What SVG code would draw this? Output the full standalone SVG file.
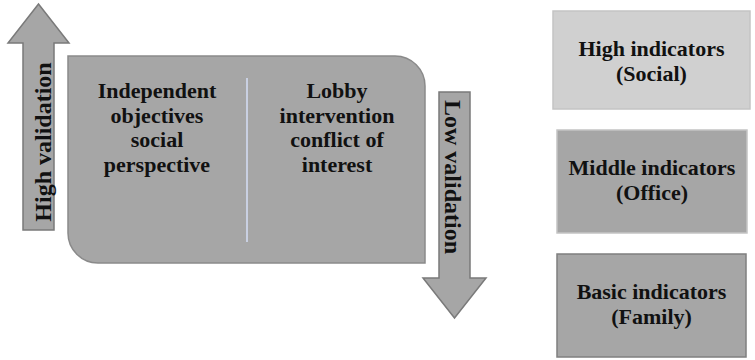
<svg xmlns="http://www.w3.org/2000/svg" width="755" height="360" viewBox="0 0 755 360">
<style>
text{font-family:"Liberation Serif","Times New Roman",serif;font-weight:bold;fill:#111;text-anchor:middle}
.t{font-size:22px}
.v{font-size:24px}
.arrow{fill:#a6a6a6;stroke:#7a7a7a;stroke-width:1.5}
.box{stroke:#c4c4c4;stroke-width:1.5}
</style>
<rect width="755" height="360" fill="#fff"/>
<g id="main">
<path d="M68,56 H395 A30,30 0 0 1 425,86 V263 H98 A30,30 0 0 1 68,233 Z" fill="#a6a6a6" stroke="#8a8a8a" stroke-width="1.5"/>
<line x1="247" y1="78" x2="247" y2="242" stroke="#c9d0e2" stroke-width="2"/>
<text class="t" x="157" y="98">Independent</text>
<text class="t" x="157" y="122.7">objectives</text>
<text class="t" x="157" y="147.4">social</text>
<text class="t" x="157" y="172">perspective</text>
<text class="t" x="337" y="98">Lobby</text>
<text class="t" x="337" y="122.7">intervention</text>
<text class="t" x="337" y="147.4">conflict of</text>
<text class="t" x="337" y="172">interest</text>
</g>
<g id="connectors">
<g id="high-validation">
<path class="arrow" d="M23,230 V43 H8 L38.5,4 L69,43 H54 V230 Z"/>
<text class="v" transform="translate(51,142) rotate(-90)">High validation</text>
</g>
<g id="low-validation">
<path class="arrow" d="M439,92 H470 V278 H486 L454.5,318 L423,278 H439 Z"/>
<text class="v" transform="translate(445,177) rotate(90)">Low validation</text>
</g>
</g>
<g id="high-indicators">
<rect class="box" x="553" y="11" width="197" height="98" fill="#d0d0d0"/>
<text class="t" x="651.5" y="56">High indicators</text>
<text class="t" x="651.5" y="81">(Social)</text>
</g>
<g id="middle-indicators">
<rect class="box" x="557" y="130" width="190" height="103" fill="#a6a6a6"/>
<text class="t" x="652" y="175">Middle indicators</text>
<text class="t" x="652" y="200">(Office)</text>
</g>
<g id="basic-indicators">
<rect x="557" y="254" width="189" height="103" fill="#a6a6a6" stroke="#7f7f7f" stroke-width="1.5"/>
<text class="t" x="651.5" y="299">Basic indicators</text>
<text class="t" x="651.5" y="324">(Family)</text>
</g>
</svg>
